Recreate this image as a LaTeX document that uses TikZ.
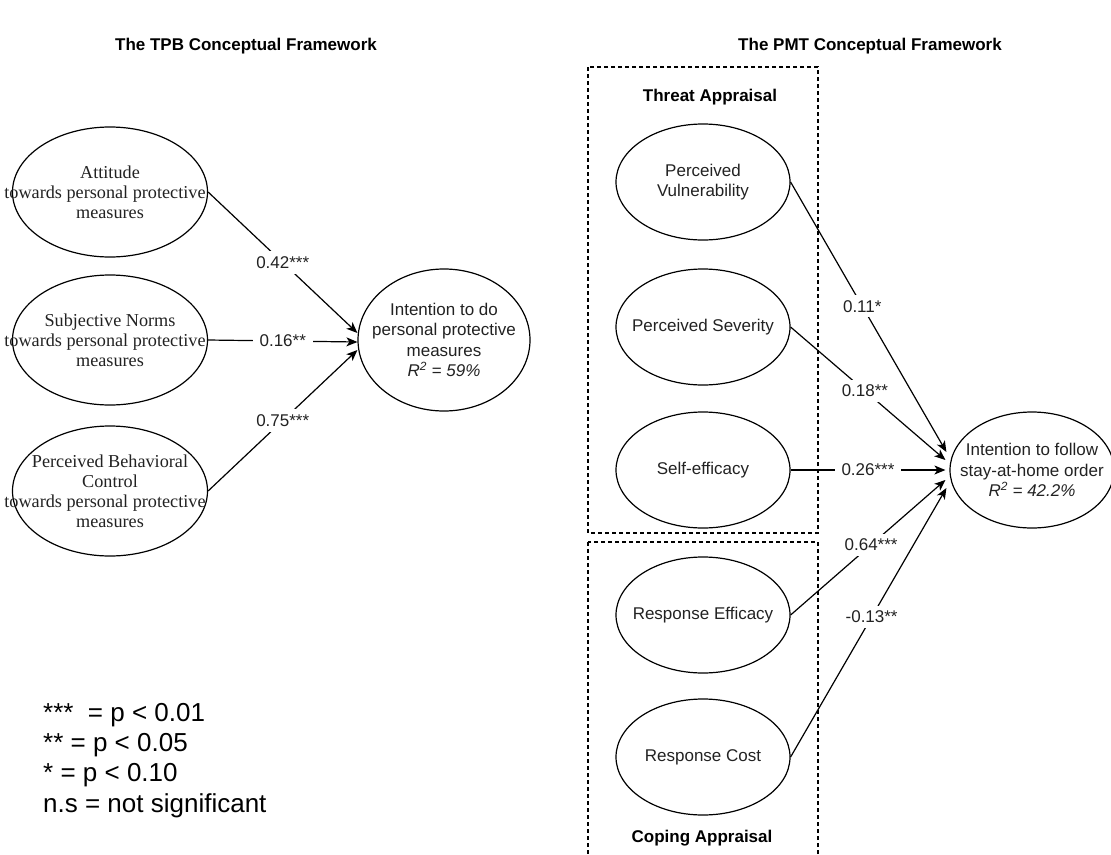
\documentclass[tikz,border=0pt]{standalone}
\usepackage{fontspec}
\setmainfont{Liberation Sans}
\newfontfamily\serifface{Liberation Serif}
\usetikzlibrary{shapes.geometric,arrows.meta}
\definecolor{txt}{HTML}{222222}
\begin{document}
\begin{tikzpicture}[x=1pt,y=-1pt,
  ell/.style={draw, ellipse, line width=1.2pt, inner sep=0pt},
  tpbell/.style={ell, minimum width=195pt, minimum height=130pt},
  pmtell/.style={ell, minimum width=174pt, minimum height=116pt},
  tpbtxt/.style={align=center, inner sep=0pt, text=txt, font=\serifface\fontsize{18.2}{20}\selectfont},
  pmttxt/.style={align=center, inner sep=0pt, text=txt, font=\fontsize{17}{20.5}\selectfont},
  conn/.style={line width=1.2pt, -{Stealth[length=11pt,width=9pt,inset=3pt]}},
  lab/.style={fill=white, inner xsep=7pt, inner ysep=5pt, text=txt, font=\fontsize{17}{20}\selectfont},
  ttl/.style={font=\bfseries\fontsize{17}{20}\selectfont},
  grp/.style={draw, line width=1.2pt, dash pattern=on 4pt off 3pt},
  leg/.style={anchor=base west, inner sep=0pt, font=\fontsize{26}{30}\selectfont}
]
\useasboundingbox (0,0) rectangle (1111,854);

% titles
\node[ttl] (t1) at (246,46) {The TPB Conceptual Framework};
\node[ttl] (t2) at (870,46) {The PMT Conceptual Framework};

% TPB ellipses
\node[tpbell] (att) at (110,192) {};
\node[tpbtxt] (att-t) at (att.center) {Attitude\\towards personal protective\kern10pt\\measures};
\node[tpbell] (sn) at (110,340) {};
\node[tpbtxt] (sn-t) at (sn.center) {Subjective Norms\\towards personal protective\kern10pt\\measures};
\node[tpbell] (pbc) at (110,491) {};
\node[tpbtxt] (pbc-t) at (pbc.center) {Perceived Behavioral\\Control\\towards personal protective\kern10pt\\measures};

\node[ell, minimum width=172pt, minimum height=142pt] (itd) at (444,340) {};
\node[pmttxt] (itd-t) at (itd.center) {Intention to do\\personal protective\\measures\\\textit{R\textsuperscript{2} = 59\%}};

\draw[conn] (att.east) -- node[lab] {0.42***} ([yshift=7pt]itd.west);
\draw[conn] (sn.east) -- node[lab] {0.16**} ([yshift=-2pt]itd.west);
\draw[conn] (pbc.east) -- node[lab] {0.75***} ([yshift=-10pt]itd.west);

% PMT groups
\draw[grp] (588,67) rectangle (818,533);
\draw[grp] (588,542) rectangle (818,870);
\node[ttl] (ta) at (710,97) {Threat Appraisal};
\node[ttl] (ca) at (702,838) {Coping Appraisal};

\node[pmtell] (pv) at (703,182) {};
\node[pmttxt] (pv-t) at (pv.center) {Perceived\\Vulnerability};
\node[pmtell] (ps) at (703,327) {};
\node[pmttxt] (ps-t) at (ps.center) {Perceived Severity};
\node[pmtell] (se) at (703,470) {};
\node[pmttxt] (se-t) at (se.center) {Self-efficacy};
\node[pmtell] (re) at (703,615) {};
\node[pmttxt] (re-t) at (re.center) {Response Efficacy};
\node[pmtell] (rc) at (703,757) {};
\node[pmttxt] (rc-t) at (rc.center) {Response Cost};

\node[ell, minimum width=164pt, minimum height=116pt] (ifs) at (1032,470) {};
\node[pmttxt] (ifs-t) at (ifs.center) {Intention to follow\\stay-at-home order\\\textit{R\textsuperscript{2} = 42.2\%}};

\draw[conn] (pv.east) -- node[lab, pos=0.46] {0.11*} ([xshift=-3pt,yshift=18pt]ifs.west);
\draw[conn] (ps.east) -- node[lab, pos=0.48] {0.18**} ([xshift=-4pt,yshift=10pt]ifs.west);
\draw[conn] (se.east) -- node[lab] {0.26***} ([xshift=-4pt]ifs.west);
\draw[conn] (re.east) -- node[lab, pos=0.52] {0.64***} ([xshift=-4pt,yshift=-10pt]ifs.west);
\draw[conn] (rc.east) -- node[lab, pos=0.52] {-0.13**} ([xshift=-3pt,yshift=-18pt]ifs.west);

% legend
\node[leg] (l1) at (43,721) {***\ \ = p < 0.01};
\node[leg] (l2) at (43,751) {** = p < 0.05};
\node[leg] (l3) at (43,781) {* = p < 0.10};
\node[leg] (l4) at (43,812) {n.s = not significant};
\end{tikzpicture}
\end{document}
